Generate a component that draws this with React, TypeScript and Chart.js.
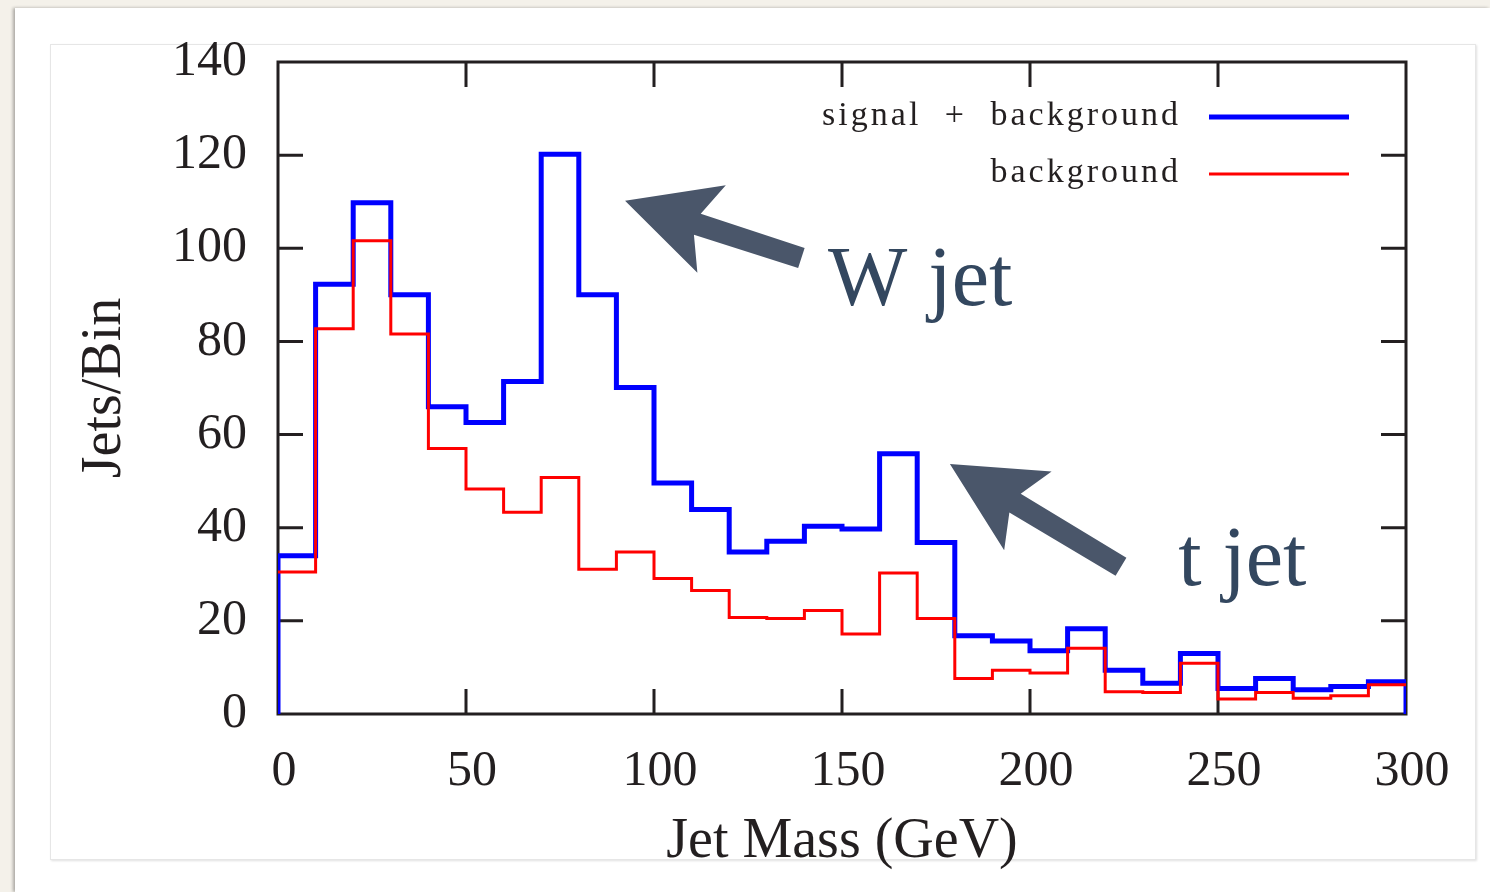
import React, { useEffect, useRef } from "react";
import { Chart, registerables } from "chart.js";

Chart.register(...registerables);

// ---------- data ----------
const binEdges = [0, 10, 20, 30, 40, 50, 60, 70, 80, 90, 100, 110, 120, 130, 140, 150, 160, 170, 180, 190, 200, 210, 220, 230, 240, 250, 260, 270, 280, 290, 300];
const signalPlusBackground = [34, 92.3, 109.8, 90, 66, 62.6, 71.4, 120.2, 90, 70.1, 49.6, 43.9, 34.8, 37.1, 40.3, 39.7, 55.9, 36.8, 16.8, 15.7, 13.6, 18.3, 9.4, 6.6, 13, 5.5, 7.6, 5.2, 5.9, 6.9];
const backgroundOnly = [30.5, 82.7, 101.6, 81.6, 57, 48.3, 43.3, 50.8, 31.1, 34.8, 29.1, 26.5, 20.7, 20.5, 22.2, 17.2, 30.3, 20.5, 7.6, 9.4, 8.8, 14.1, 4.8, 4.6, 10.9, 3.2, 4.6, 3.4, 3.9, 6.3];
const yTicks = [0, 20, 40, 60, 80, 100, 120, 140];
const xTicks = [0, 50, 100, 150, 200, 250, 300];
const seriesLabels = ["signal + background", "background"];
const seriesColors = ["#0000ff", "#ff0000"];
const seriesWidths = [5, 3];
const xTitle = "Jet Mass (GeV)";
const yTitle = "Jets/Bin";
// annotations (data coordinates)
const annotationTexts = ["W jet", "t jet"];
const annotationAnchors = [
  { x: 146.3, y: 87.8 },
  { x: 239.4, y: 27.8 },
];
const arrowTips = [
  { x: 92.3, y: 110.2 },
  { x: 178.7, y: 53.7 },
];
const arrowTails = [
  { x: 139.2, y: 97.9 },
  { x: 224.2, y: 31.6 },
];

const INK = "#231f20";
const SERIF = '"Liberation Serif", "Times New Roman", serif';

function stepPoints(vals: number[], closeToZero: boolean) {
  const pts: { x: number; y: number }[] = [];
  if (closeToZero) pts.push({ x: binEdges[0], y: 0 });
  vals.forEach((v, i) => {
    pts.push({ x: binEdges[i], y: v });
    pts.push({ x: binEdges[i + 1], y: v });
  });
  if (closeToZero) pts.push({ x: binEdges[binEdges.length - 1], y: 0 });
  return pts;
}

const framePlugin = {
  id: "frameTicks",
  beforeDatasetsDraw(chart: any) {
    const { ctx, chartArea: a, scales } = chart;
    const tl = 25;
    ctx.save();
    ctx.strokeStyle = INK;
    ctx.lineWidth = 3;
    ctx.lineCap = "butt";
    ctx.strokeRect(a.left, a.top, a.right - a.left, a.bottom - a.top);
    ctx.beginPath();
    xTicks.slice(1, -1).forEach((t) => {
      const px = scales.x.getPixelForValue(t);
      ctx.moveTo(px, a.bottom);
      ctx.lineTo(px, a.bottom - tl);
      ctx.moveTo(px, a.top);
      ctx.lineTo(px, a.top + tl);
    });
    yTicks.slice(1, -1).forEach((t) => {
      const py = scales.y.getPixelForValue(t);
      ctx.moveTo(a.left, py);
      ctx.lineTo(a.left + tl, py);
      ctx.moveTo(a.right, py);
      ctx.lineTo(a.right - tl, py);
    });
    ctx.stroke();
    ctx.restore();
  },
  afterDraw(chart: any) {
    const { ctx, chartArea: a, scales } = chart;
    ctx.save();
    // legend
    const lineRight = a.right - 57;
    const lineLeft = lineRight - 140;
    const textRight = lineLeft - 31;
    seriesLabels.forEach((lab, i) => {
      const y = a.top + 55 + i * 57;
      ctx.strokeStyle = seriesColors[i];
      ctx.lineWidth = seriesWidths[i];
      ctx.beginPath();
      ctx.moveTo(lineLeft, y);
      ctx.lineTo(lineRight, y);
      ctx.stroke();
      ctx.fillStyle = INK;
      ctx.font = `34px ${SERIF}`;
      (ctx as any).letterSpacing = "3px";
      (ctx as any).wordSpacing = "12px";
      ctx.textAlign = "right";
      ctx.textBaseline = "alphabetic";
      ctx.fillText(lab, textRight + 3, y + 8);
    });
    (ctx as any).letterSpacing = "0px";
    (ctx as any).wordSpacing = "0px";
    // arrows
    ctx.fillStyle = "#4a566a";
    arrowTips.forEach((tipD, i) => {
      const tip = { x: scales.x.getPixelForValue(tipD.x), y: scales.y.getPixelForValue(tipD.y) };
      const tail = { x: scales.x.getPixelForValue(arrowTails[i].x), y: scales.y.getPixelForValue(arrowTails[i].y) };
      const dx = tail.x - tip.x;
      const dy = tail.y - tip.y;
      const L = Math.hypot(dx, dy);
      const ux = dx / L, uy = dy / L;
      const nx = -uy, ny = ux;
      const P = (s: number, w: number) => [tip.x + ux * s + nx * w, tip.y + uy * s + ny * w];
      const pts = [P(0, 0), P(91, -46), P(76, -11), P(L, -10.5), P(L, 10.5), P(76, 11), P(91, 46)];
      ctx.beginPath();
      pts.forEach((p, k) => (k === 0 ? ctx.moveTo(p[0], p[1]) : ctx.lineTo(p[0], p[1])));
      ctx.closePath();
      ctx.fill();
    });
    // annotation texts
    ctx.fillStyle = "#33475f";
    ctx.font = `84px ${SERIF}`;
    ctx.textAlign = "left";
    ctx.textBaseline = "alphabetic";
    annotationTexts.forEach((t, i) => {
      ctx.fillText(t, scales.x.getPixelForValue(annotationAnchors[i].x), scales.y.getPixelForValue(annotationAnchors[i].y));
    });
    ctx.restore();
  },
};

function HistChart() {
  const ref = useRef<HTMLCanvasElement | null>(null);
  useEffect(() => {
    if (!ref.current) return;
    const chart = new Chart(ref.current, {
      type: "line",
      data: {
        datasets: [
          {
            label: seriesLabels[0],
            data: stepPoints(signalPlusBackground, true),
            borderColor: seriesColors[0],
            borderWidth: seriesWidths[0],
            pointRadius: 0,
            tension: 0,
            fill: false,
            order: 1,
            borderJoinStyle: "miter",
          },
          {
            label: seriesLabels[1],
            data: stepPoints(backgroundOnly, false),
            borderColor: seriesColors[1],
            borderWidth: seriesWidths[1],
            pointRadius: 0,
            tension: 0,
            fill: false,
            order: 0,
            borderJoinStyle: "miter",
          },
        ],
      },
      options: {
        animation: false,
        responsive: false,
        devicePixelRatio: 1,
        parsing: false as any,
        layout: { padding: { left: 0, top: 62, right: 84, bottom: 0 } },
        plugins: { legend: { display: false }, tooltip: { enabled: false } },
        scales: {
          x: {
            type: "linear",
            min: 0,
            max: 300,
            afterBuildTicks: (s: any) => {
              s.ticks = xTicks.map((v) => ({ value: v }));
            },
            afterFit: (s: any) => {
              s.height = 178;
            },
            grid: { display: false, drawTicks: false },
            border: { display: false },
            ticks: {
              font: { family: SERIF, size: 50 },
              color: INK,
              padding: 28,
              labelOffset: 6,
              maxRotation: 0,
              autoSkip: false,
            },
            title: {
              display: true,
              text: xTitle,
              font: { family: SERIF, size: 56, lineHeight: 1 },
              color: INK,
              padding: { top: 0, bottom: 22 },
            },
          },
          y: {
            type: "linear",
            min: 0,
            max: 140,
            afterBuildTicks: (s: any) => {
              s.ticks = yTicks.map((v) => ({ value: v }));
            },
            afterFit: (s: any) => {
              s.width = 278;
            },
            grid: { display: false, drawTicks: false },
            border: { display: false },
            ticks: {
              font: { family: SERIF, size: 50 },
              color: INK,
              padding: 31,
              autoSkip: false,
            },
            title: {
              display: true,
              text: yTitle,
              font: { family: SERIF, size: 56, lineHeight: 1 },
              color: INK,
              padding: { top: 77, bottom: 0 },
            },
          },
        },
      },
      plugins: [framePlugin],
    } as any);
    return () => chart.destroy();
  }, []);
  return (
    <canvas
      ref={ref}
      width={1490}
      height={892}
      style={{ position: "absolute", left: 0, top: 0, width: 1490, height: 892 }}
    />
  );
}

export default function App() {
  return (
    <div style={{ position: "fixed", left: 0, top: 0, width: 1490, height: 892, background: "#f4f1ea", overflow: "hidden" }}>
      <div
        style={{
          position: "absolute",
          left: 15,
          top: 8,
          right: 0,
          bottom: 0,
          background: "#ffffff",
          boxShadow: "-2px 0 3px rgba(0,0,0,0.3)",
        }}
      />
      <div
        style={{
          position: "absolute",
          left: 50,
          top: 44,
          width: 1424,
          height: 814,
          border: "1px solid #e6e6e6",
          boxShadow: "1px 1px 2px rgba(0,0,0,0.12)",
        }}
      />
      <HistChart />
    </div>
  );
}
